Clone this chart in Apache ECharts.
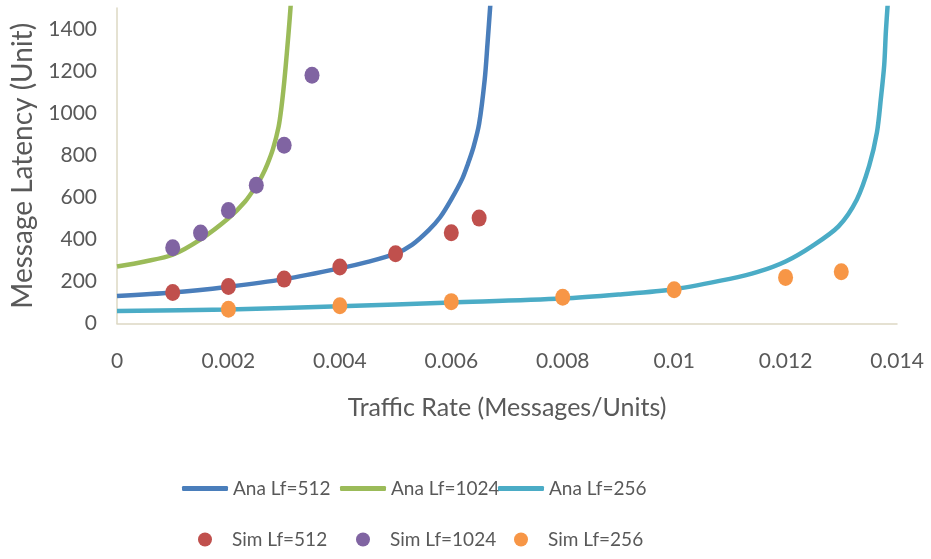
<!DOCTYPE html>
<html>
<head>
<meta charset="utf-8">
<title>Message Latency vs Traffic Rate</title>
<script src="https://cdn.jsdelivr.net/npm/echarts@6/dist/echarts.min.js"></script>
<style>
  html, body { margin: 0; padding: 0; background: #ffffff; }
  #chart { width: 931px; height: 559px; }
</style>
</head>
<body>
<div id="chart"></div>
<script>
// Analytical model curves: [traffic rate, latency]
const anaLf512 = [
  [0, 131], [0.001, 147], [0.002, 175], [0.003, 211], [0.004, 262],
  [0.0045, 293], [0.005, 332], [0.0053, 375], [0.0056, 445], [0.0058, 505],
  [0.006, 590], [0.0062, 690], [0.0063, 760], [0.0064, 840], [0.0065, 950],
  [0.0066, 1160], [0.00665, 1330], [0.0067, 1513], [0.00673, 1620]
];
const anaLf1024 = [
  [0, 271], [0.0005, 295], [0.001, 327], [0.0015, 400], [0.002, 500],
  [0.0023, 580], [0.0025, 655], [0.0026, 700], [0.0027, 758], [0.0028, 830],
  [0.0029, 935], [0.00295, 1025], [0.003, 1145], [0.00305, 1290],
  [0.0031, 1450], [0.00313, 1560]
];
const anaLf256 = [
  [0, 60], [0.002, 67], [0.004, 82], [0.006, 100], [0.008, 119],
  [0.009, 138], [0.01, 163], [0.011, 212], [0.0115, 245], [0.012, 295],
  [0.01247, 367], [0.01295, 462], [0.01328, 590], [0.0135, 749],
  [0.01364, 909], [0.01371, 1068], [0.01377, 1227], [0.0138, 1386],
  [0.01383, 1506], [0.01386, 1620]
];

// Simulation results: [traffic rate, latency]
const simLf512 = [
  [0.001, 147], [0.002, 176], [0.003, 211], [0.004, 269],
  [0.005, 332], [0.006, 431], [0.0065, 501]
];
const simLf1024 = [
  [0.001, 360], [0.0015, 430], [0.002, 537], [0.0025, 657],
  [0.003, 848], [0.0035, 1180]
];
const simLf256 = [
  [0.002, 68], [0.004, 84], [0.006, 104], [0.008, 125],
  [0.01, 160], [0.012, 219], [0.013, 246]
];

const lineNames = ['Ana Lf=512', 'Ana Lf=1024', 'Ana Lf=256'];
const dotNames = ['Sim Lf=512', 'Sim Lf=1024', 'Sim Lf=256'];

const FONT = 'Lato, "Open Sans", sans-serif';
const TEXT = '#595959';
const AXIS = '#ddd8c3';
const LINE_COLORS = ['#4a7ebb', '#9bbb59', '#4bacc6'];
const DOT_COLORS = ['#c0504d', '#8064a2', '#f79646'];

// legend columns share a fixed pitch, one legend per entry
const LEGEND_COLS = [182, 340, 498];

function lineSeries(name, data, color) {
  return {
    name: name,
    type: 'line',
    data: data,
    symbol: 'none',
    smooth: 0.3,
    lineStyle: { color: color, width: 4.5 },
    itemStyle: { color: color },
    clip: true,
    z: 2
  };
}

function dotSeries(name, data, color) {
  return {
    name: name,
    type: 'scatter',
    data: data,
    symbol: 'circle',
    symbolSize: [15, 17],
    itemStyle: { color: color, opacity: 1 },
    z: 3
  };
}

const legendText = { color: TEXT, fontFamily: FONT, fontSize: 19 };

const legends = [];
lineNames.forEach(function (name, i) {
  legends.push({
    data: [{ name: name, icon: 'roundRect' }],
    left: LEGEND_COLS[i],
    top: 479,
    itemWidth: 46,
    itemHeight: 5,
    padding: 0,
    textStyle: legendText
  });
});
dotNames.forEach(function (name, i) {
  legends.push({
    data: [{ name: name, icon: 'circle' }],
    left: LEGEND_COLS[i] + 16,
    top: 530,
    itemWidth: 14,
    itemHeight: 14,
    padding: 0,
    textStyle: Object.assign({}, legendText, { padding: [0, 0, 0, 15] })
  });
});

const chart = echarts.init(document.getElementById('chart'), null, { renderer: 'canvas' });
chart.setOption({
  animation: false,
  backgroundColor: '#ffffff',
  textStyle: { fontFamily: FONT },
  grid: { left: 117, right: 34, top: 8, bottom: 235.5, containLabel: false },
  xAxis: {
    type: 'value',
    min: 0,
    max: 0.014,
    interval: 0.002,
    name: 'Traffic Rate (Messages/Units)',
    nameLocation: 'middle',
    nameGap: 72,
    nameTextStyle: { color: TEXT, fontFamily: FONT, fontSize: 25 },
    axisLine: { show: true, lineStyle: { color: AXIS, width: 1.5 } },
    axisTick: { show: false },
    splitLine: { show: false },
    axisLabel: { color: TEXT, fontFamily: FONT, fontSize: 21, margin: 27 }
  },
  yAxis: {
    type: 'value',
    min: 0,
    max: 1500,
    interval: 200,
    name: 'Message Latency (Unit)',
    nameLocation: 'middle',
    nameGap: 80,
    nameTextStyle: { color: TEXT, fontFamily: FONT, fontSize: 28 },
    axisLine: { show: true, lineStyle: { color: AXIS, width: 1.5 } },
    axisTick: { show: false },
    splitLine: { show: false },
    axisLabel: {
      color: TEXT, fontFamily: FONT, fontSize: 21, margin: 20, showMaxLabel: false,
      formatter: function (v) { return String(v); }
    }
  },
  legend: legends,
  series: [
    lineSeries(lineNames[0], anaLf512, LINE_COLORS[0]),
    lineSeries(lineNames[1], anaLf1024, LINE_COLORS[1]),
    lineSeries(lineNames[2], anaLf256, LINE_COLORS[2]),
    dotSeries(dotNames[0], simLf512, DOT_COLORS[0]),
    dotSeries(dotNames[1], simLf1024, DOT_COLORS[1]),
    dotSeries(dotNames[2], simLf256, DOT_COLORS[2])
  ]
});
</script>
</body>
</html>
